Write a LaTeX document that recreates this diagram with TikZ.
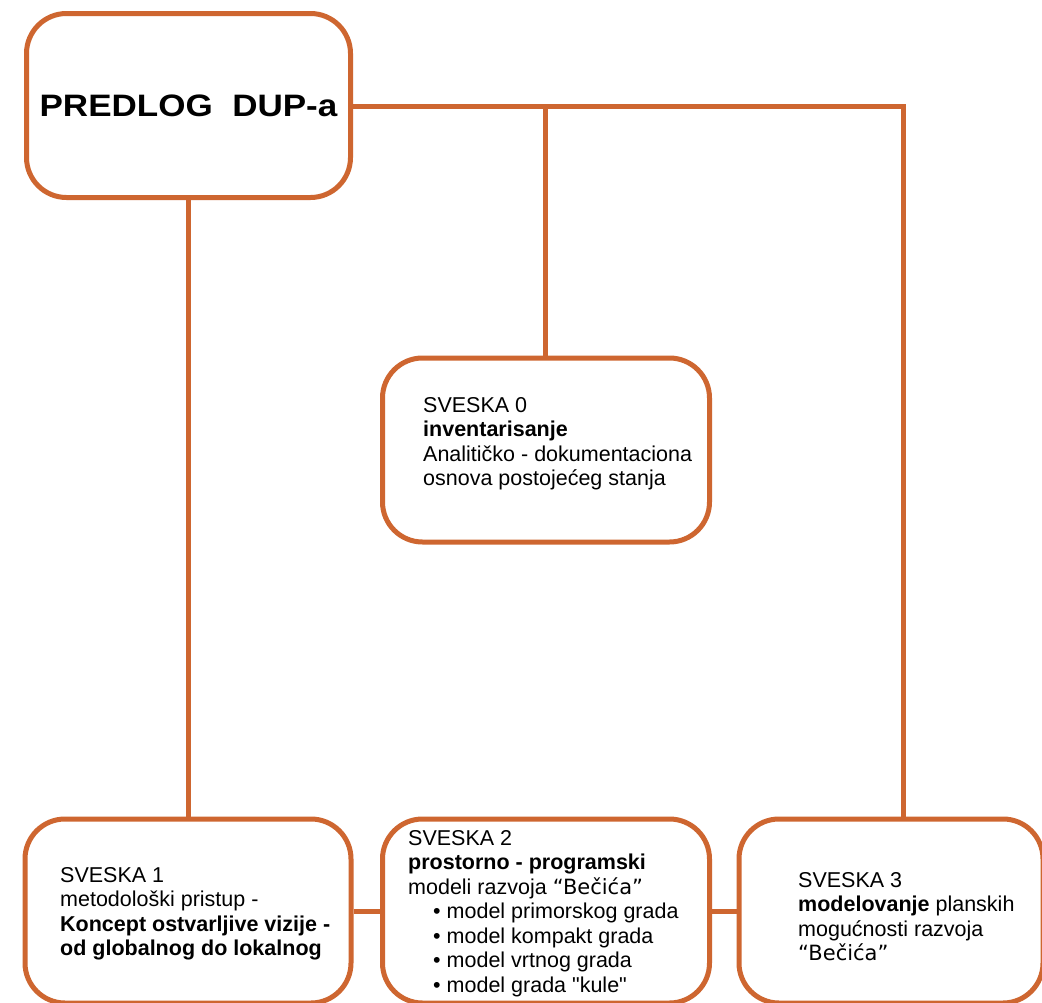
\documentclass[tikz,border=0pt]{standalone}
\usepackage{fontspec}
\usepackage{graphicx}
\newfontfamily\bodyfont{Liberation Sans}
\newfontfamily\becfont{DejaVu Sans}
\definecolor{org}{RGB}{206,102,48}
\begin{document}
\begin{tikzpicture}[x=1pt,y=-1pt,
  box/.style={draw=org, line width=5pt, rounded corners=40pt, minimum width=#1, minimum height=184pt, inner sep=0pt},
  link/.style={draw=org, line width=5pt},
  txt/.style={anchor=north west, inner sep=0pt, align=left, font=\bodyfont\fontsize{21.5}{24.5}\selectfont}]
\useasboundingbox (0,0) rectangle (1042,1002);
\clip (0,0) rectangle (1042,1002);
\fill[white] (0,0) rectangle (1042,1002);
\node[box=324pt, font=\bodyfont\bfseries\fontsize{31}{31}\selectfont] (top) at (188.5,105.5) {\scalebox{1.13}[1]{PREDLOG\ \ DUP-a}};
\node[box=327pt] (s0) at (546,450) {};
\node[box=326pt] (s1) at (188,911) {};
\node[box=327pt] (s2) at (546,911) {};
\node[box=304pt] (s3) at (891,911) {};
\coordinate (j1) at (545,106);
\coordinate (j2) at (903,106);
\draw[link] (top.east |- j1) -- (j2) -- (j2 |- s3.north);
\draw[link] (j1) -- (j1 |- s0.north);
\draw[link] (top.south) -- (top.south |- s1.north);
\draw[link] (s1.east) -- (s2.west);
\draw[link] (s2.east) -- (s3.west);
\node[txt] (t0) at (423,397) {SVESKA 0\\\textbf{inventarisanje}\\Analitičko - dokumentaciona\\osnova postojećeg stanja};
\node[txt] (t1) at (60,867) {SVESKA 1\\metodološki pristup -\\\textbf{Koncept ostvarljive vizije -}\\\textbf{od globalnog do lokalnog}};
\node[txt] (t2) at (408,830) {SVESKA 2\\\textbf{prostorno - programski}\\modeli razvoja {\becfont\fontsize{21}{24.5}\selectfont “Bečića”}\\\hspace*{25pt}\textbullet\ model primorskog grada\\\hspace*{25pt}\textbullet\ model kompakt grada\\\hspace*{25pt}\textbullet\ model vrtnog grada\\\hspace*{25pt}\textbullet\ model grada "kule"};
\node[txt] (t3) at (798,872) {SVESKA 3\\\textbf{modelovanje} planskih\\mogućnosti razvoja\\{\becfont\fontsize{21}{24.5}\selectfont “Bečića”}};
\end{tikzpicture}
\end{document}
